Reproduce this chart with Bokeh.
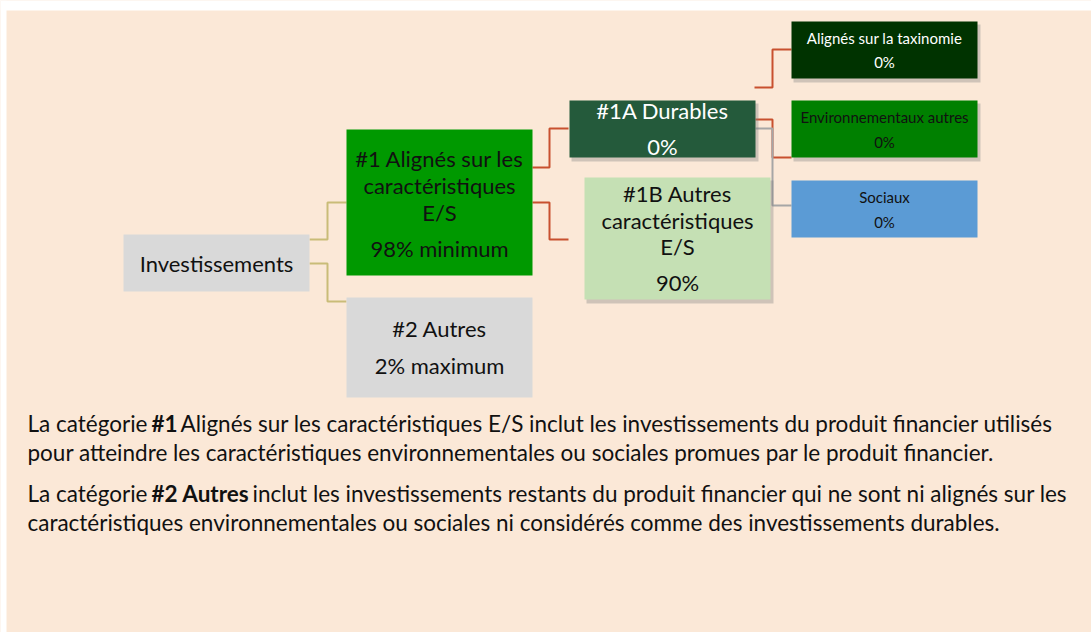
from bokeh.plotting import figure
from bokeh.models import Range1d
from bokeh.core.properties import value
from bokeh.embed import file_html
from bokeh.resources import INLINE

# ---------------- data ----------------
node_labels = [
    "Investissements",
    "#1 Alignés sur les\ncaractéristiques\nE/S",
    "#2 Autres",
    "#1A Durables",
    "#1B Autres\ncaractéristiques\nE/S",
    "Alignés sur la taxinomie",
    "Environnementaux autres",
    "Sociaux",
]
node_shares = ["", "98% minimum", "2% maximum", "0%", "90%", "0%", "0%", "0%"]

note_runs = [
    [("La catégorie ", False), ("#1", True),
     (" Alignés sur les caractéristiques E/S inclut les investissements du produit financier utilisés", False)],
    [("pour atteindre les caractéristiques environnementales ou sociales promues par le produit financier.", False)],
    [("La catégorie ", False), ("#2 Autres", True),
     (" inclut les investissements restants du produit financier qui ne sont ni alignés sur les", False)],
    [("caractéristiques environnementales ou sociales ni considérés comme des investissements durables.", False)],
]

# ---------------- layout / style (page pixel coordinates) ----------------
W, H = 1091, 632
FONT = "Lato"
PEACH = "#FBE8D7"

node_layout = [
    # box (x0,y0,x1,y1), fill, text colour, font px, line y list, share y, shadow
    dict(box=(123, 234, 309, 291), fill="#D9D9D9", tc="#111111", fs=22, ly=[263], sy=None, sh=False),
    dict(box=(346, 129, 532, 275), fill="#009900", tc="#111111", fs=22, ly=[158, 185, 212], sy=248, sh=False),
    dict(box=(346, 297, 532, 397), fill="#D9D9D9", tc="#111111", fs=22, ly=[328], sy=365, sh=False),
    dict(box=(569, 100, 755, 157), fill="#245A3B", tc="#FFFFFF", fs=22, ly=[110], sy=146, sh=True),
    dict(box=(584, 177, 770, 299), fill="#C5E0B4", tc="#111111", fs=22, ly=[193, 220, 246], sy=282, sh=True),
    dict(box=(791, 21, 977, 78), fill="#003300", tc="#FFFFFF", fs=15, ly=[37], sy=61, sh=True),
    dict(box=(791, 100, 977, 157), fill="#008000", tc="#111111", fs=15, ly=[116], sy=141, sh=True),
    dict(box=(791, 180, 977, 237), fill="#5B9BD5", tc="#111111", fs=15, ly=[196], sy=221, sh=False),
]

connectors = [
    ("#C9BC78", [(309, 239), (327, 239), (327, 202), (346, 202)]),
    ("#C9BC78", [(309, 263), (327, 263), (327, 301), (346, 301)]),
    ("#C8502F", [(532, 167), (549, 167), (549, 128), (568, 128)]),
    ("#C8502F", [(532, 202), (549, 202), (549, 239), (568, 239)]),
    ("#C8502F", [(754, 87), (772, 87), (772, 49), (791, 49)]),
    ("#C8502F", [(755, 119), (772, 119), (772, 157), (791, 157)]),
    ("#A6A6A6", [(755, 128), (772, 128), (772, 205), (791, 205)]),
]

note_layout = [
    dict(y=423, xs=[27, 151, 180]),
    dict(y=452, xs=[27]),
    dict(y=493, xs=[27, 151, 252]),
    dict(y=522, xs=[27]),
]
NOTE_FS = "22.5px"

p = figure(width=W, height=H, x_range=Range1d(0, W), y_range=Range1d(H, 0),
           output_backend="svg", toolbar_location=None, min_border=0)
p.axis.visible = False
p.grid.visible = False
p.outline_line_color = None
p.background_fill_color = PEACH
p.border_fill_color = PEACH

# white page margins at top and left
p.quad(left=[0], right=[W], top=[0], bottom=[10], fill_color="white", line_color=None)
p.quad(left=[0], right=[6], top=[0], bottom=[H], fill_color="white", line_color=None)

# connectors
for color, pts in connectors:
    p.line([a for a, b in pts], [b for a, b in pts], line_color=color, line_width=2)

# boxes
for i, lay in enumerate(node_layout):
    x0, y0, x1, y1 = lay["box"]
    if lay["sh"]:
        p.quad(left=[x0 + 2], right=[x1 + 3], top=[y0 + 3], bottom=[y1 + 4],
               fill_color="#7F7F7F", fill_alpha=0.35, line_color=None)
    p.quad(left=[x0], right=[x1], top=[y0], bottom=[y1],
           fill_color=lay["fill"], line_color=None)
    cx = (x0 + x1) / 2
    lines = node_labels[i].split("\n")
    p.text(x=[cx] * len(lines), y=lay["ly"], text=lines,
           text_font=value(FONT), text_font_size=f"{lay['fs']}px", text_color=lay["tc"],
           text_align="center", text_baseline="middle")
    if node_shares[i]:
        p.text(x=[cx], y=[lay["sy"]], text=[node_shares[i]],
               text_font=value(FONT), text_font_size=f"{lay['fs']}px", text_color=lay["tc"],
               text_align="center", text_baseline="middle")

# explanatory notes (runs placed side by side; SVG drops leading spaces)
for runs, lay in zip(note_runs, note_layout):
    for (txt, bold), x in zip(runs, lay["xs"]):
        p.text(x=[x], y=[lay["y"]], text=[txt.strip()], text_font=value(FONT),
               text_font_size=NOTE_FS, text_font_style="bold" if bold else "normal",
               text_color="#111111", text_align="left", text_baseline="middle")

open("out.html", "w").write(file_html(p, INLINE))
